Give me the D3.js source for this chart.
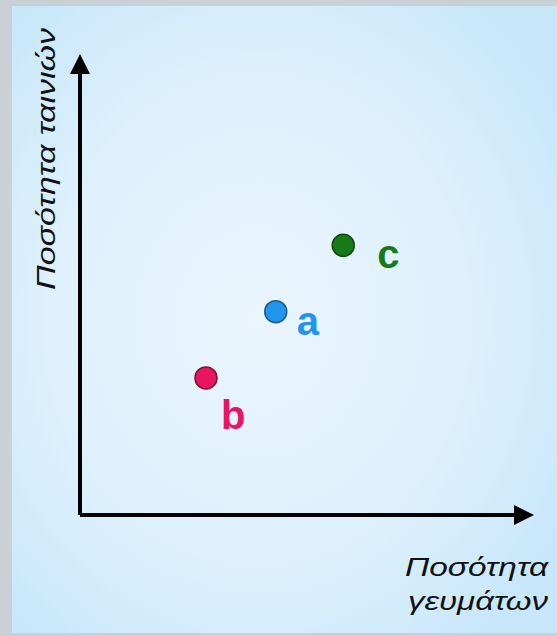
<!DOCTYPE html>
<html>
<head>
<meta charset="utf-8">
<script src="https://cdn.jsdelivr.net/npm/d3@7"></script>
<style>
  html, body { margin: 0; padding: 0; background: #c9d1d6; }
  svg { display: block; }
</style>
</head>
<body>
<div id="viz"></div>
<script>
var width = 557
var height = 636

// data
var names = ["a", "b", "c"]
var xValues = [43.5, 28, 58.5]
var yValues = [44.5, 30, 59]
var colors = ["#1f95ec", "#ea1560", "#157a17"]
var strokes = ["#205a8a", "#7a1438", "#0e4a10"]
var xTitle = ["Ποσότητα", "γευμάτων"]
var yTitle = "Ποσότητα ταινιών"

var svg = d3
    .select("#viz")
    .append("svg")
    .attr("width", width)
    .attr("height", height);

var defs = svg.append("defs");
var grad = defs.append("radialGradient")
    .attr("id", "bg")
    .attr("cx", "45%")
    .attr("cy", "50%")
    .attr("r", "65%");
grad.append("stop").attr("offset", "0%").attr("stop-color", "#eaf5fc");
grad.append("stop").attr("offset", "60%").attr("stop-color", "#ddf0fc");
grad.append("stop").attr("offset", "100%").attr("stop-color", "#c8e7fb");

defs.append("marker")
    .attr("id", "arrow")
    .attr("viewBox", "0 0 10 10")
    .attr("refX", 2)
    .attr("refY", 5)
    .attr("markerWidth", 5)
    .attr("markerHeight", 5)
    .attr("orient", "auto")
    .attr("markerUnits", "strokeWidth")
    .append("path")
    .attr("d", "M0,0 L10,5 L0,10 Z")
    .attr("fill", "#000");

svg.append("rect")
    .attr("x", 12)
    .attr("y", 6)
    .attr("width", width - 12)
    .attr("height", height - 9)
    .attr("fill", "url(#bg)");

var x = d3.scaleLinear().domain([0, 100]).range([80, 530]);
var y = d3.scaleLinear().domain([0, 100]).range([515, 58]);

// axes
svg.append("path")
    .attr("d", "M" + x(0) + "," + y(0) + " L" + (x(100) - 12) + "," + y(0))
    .attr("stroke", "#000")
    .attr("stroke-width", 4)
    .attr("fill", "none")
    .attr("marker-end", "url(#arrow)");
svg.append("path")
    .attr("d", "M" + x(0) + "," + y(0) + " L" + x(0) + "," + (y(100) + 12))
    .attr("stroke", "#000")
    .attr("stroke-width", 4)
    .attr("fill", "none")
    .attr("marker-end", "url(#arrow)");

// points
var idx = d3.range(names.length);
svg.selectAll(".pt")
    .data(idx)
    .enter()
    .append("circle")
    .attr("class", "pt")
    .attr("cx", function (i) { return x(xValues[i]); })
    .attr("cy", function (i) { return y(yValues[i]); })
    .attr("r", 11)
    .attr("fill", function (i) { return colors[i]; })
    .attr("stroke", function (i) { return strokes[i]; })
    .attr("stroke-width", 1.5);

// labels: a and c to the right, b below-right
svg.selectAll(".lbl")
    .data(idx)
    .enter()
    .append("text")
    .attr("class", "lbl")
    .attr("x", function (i) { return x(xValues[i]) + (names[i] == "b" ? 15 : names[i] == "a" ? 21 : 34); })
    .attr("y", function (i) { return y(yValues[i]) + (names[i] == "b" ? 51 : 23); })
    .attr("font-family", "Liberation Sans, Arial, sans-serif")
    .attr("font-weight", "bold")
    .attr("font-size", 40)
    .attr("fill", function (i) { return colors[i]; })
    .text(function (i) { return names[i]; });

// axis titles
svg.append("text")
    .attr("transform", "translate(55,290) rotate(-90)")
    .attr("font-family", "Liberation Sans, Arial, sans-serif")
    .attr("font-style", "italic")
    .attr("font-size", 25)
    .attr("textLength", 262)
    .attr("lengthAdjust", "spacingAndGlyphs")
    .attr("fill", "#111")
    .text(yTitle);

svg.selectAll(".xt")
    .data(xTitle)
    .enter()
    .append("text")
    .attr("class", "xt")
    .attr("x", function (d, i) { return i == 0 ? 405 : 408; })
    .attr("y", function (d, i) { return 576 + i * 34; })
    .attr("font-family", "Liberation Sans, Arial, sans-serif")
    .attr("font-style", "italic")
    .attr("font-size", 25)
    .attr("textLength", function (d, i) { return i == 0 ? 143 : 140; })
    .attr("lengthAdjust", "spacingAndGlyphs")
    .attr("fill", "#111")
    .text(function (d) { return d; });
</script>
</body>
</html>
